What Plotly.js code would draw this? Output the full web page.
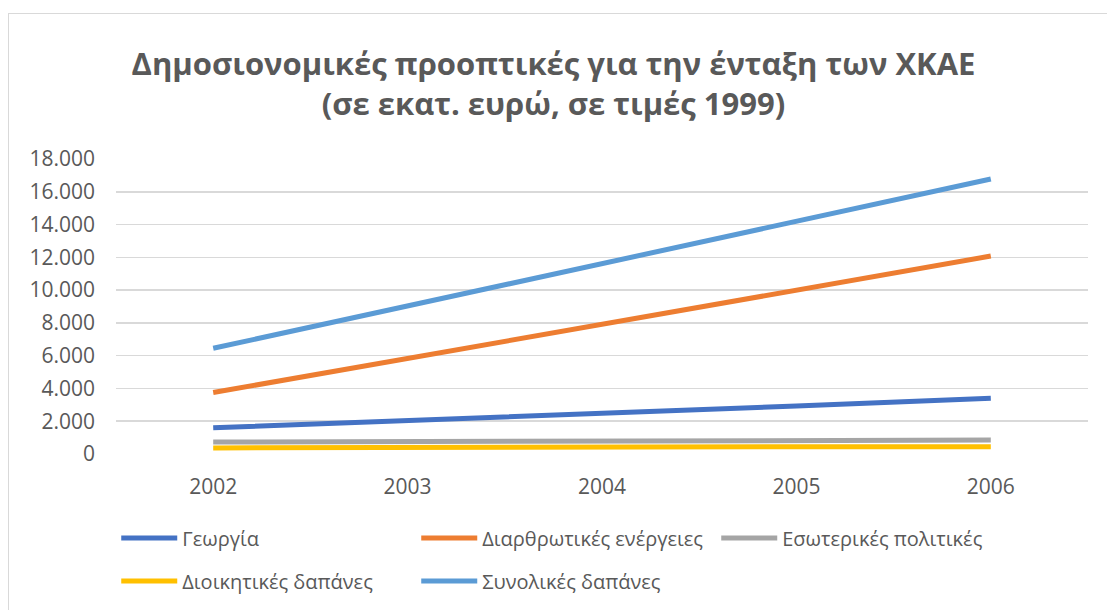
<!DOCTYPE html>
<html>
<head>
<meta charset="utf-8">
<script src="https://cdn.plot.ly/plotly-3.0.1.min.js"></script>
<style>
  html, body { margin: 0; padding: 0; background: #ffffff; }
  #chart { position: absolute; left: 0; top: 0; width: 1107px; height: 610px; }
  #frame { position: absolute; left: 8px; top: 13px; width: 1110px; height: 610px;
           border: 1px solid #d9d9d9; pointer-events: none; box-sizing: border-box; }
</style>
</head>
<body>
<div id="chart"></div>
<div id="frame"></div>
<script>
const years = ['2002', '2003', '2004', '2005', '2006'];
const seriesNames = ['Γεωργία', 'Διαρθρωτικές ενέργειες', 'Εσωτερικές πολιτικές', 'Διοικητικές δαπάνες', 'Συνολικές δαπάνες'];
const agriculture = [1600, 2030, 2450, 2930, 3400];
const structural = [3750, 5830, 7920, 10000, 12080];
const internalPolicies = [730, 760, 790, 820, 850];
const administration = [370, 410, 450, 450, 450];
const total = [6450, 9030, 11610, 14200, 16780];
const yTicks = [0, 2000, 4000, 6000, 8000, 10000, 12000, 14000, 16000, 18000];

const colors = ['#4472C4', '#ED7D31', '#A5A5A5', '#FFC000', '#5B9BD5'];
const values = [agriculture, structural, internalPolicies, administration, total];
const legendRow = ['legend', 'legend', 'legend', 'legend2', 'legend2'];

const FONT = 'Open Sans, Noto Sans, sans-serif';

const traces = values.map((v, i) => ({
  type: 'scatter',
  mode: 'lines',
  x: years,
  y: v,
  name: seriesNames[i],
  legend: legendRow[i],
  line: { color: colors[i], width: 5 },
  hoverinfo: 'x+y+name'
}));

const legendBase = {
  orientation: 'h',
  xref: 'container', yref: 'container',
  x: 0.105, xanchor: 'left',
  yanchor: 'middle',
  entrywidth: 229, entrywidthmode: 'pixels',
  itemwidth: 56,
  traceorder: 'normal',
  font: { family: FONT, size: 20, color: '#595959' },
  bgcolor: 'rgba(0,0,0,0)'
};

const layout = {
  width: 1107,
  height: 610,
  paper_bgcolor: 'rgba(0,0,0,0)',
  plot_bgcolor: 'rgba(0,0,0,0)',
  margin: { l: 116, r: 19, t: 159, b: 156 },
  separators: ',.',
  font: { family: FONT, color: '#595959', size: 21 },
  title: {
    text: 'Δημοσιονομικές προοπτικές για την ένταξη των ΧΚΑΕ<br>(σε εκατ. ευρώ, σε τιμές 1999)',
    font: { family: FONT, size: 31, color: '#595959', weight: 'bold' },
    x: 0.5, xanchor: 'center',
    y: 0.877, yanchor: 'middle', yref: 'container'
  },
  xaxis: {
    type: 'category',
    range: [-0.5, 4.5],
    showgrid: false,
    showline: false,
    zeroline: false,
    ticks: '',
    ticklabelstandoff: 18,
    tickfont: { family: FONT, size: 21, color: '#595959' }
  },
  yaxis: {
    range: [0, 18000],
    tickvals: yTicks,
    tickformat: ',d',
    showgrid: true,
    gridcolor: '#d9d9d9',
    gridwidth: 1.5,
    zeroline: false,
    showline: false,
    ticks: '',
    ticklabelstandoff: 20,
    tickfont: { family: FONT, size: 21, color: '#595959' }
  },
  showlegend: true,
  legend: Object.assign({}, legendBase, { y: 0.118 }),
  legend2: Object.assign({}, legendBase, { y: 0.0475 })
};

Plotly.newPlot('chart', traces, layout, { displayModeBar: false, staticPlot: true });
</script>
</body>
</html>
